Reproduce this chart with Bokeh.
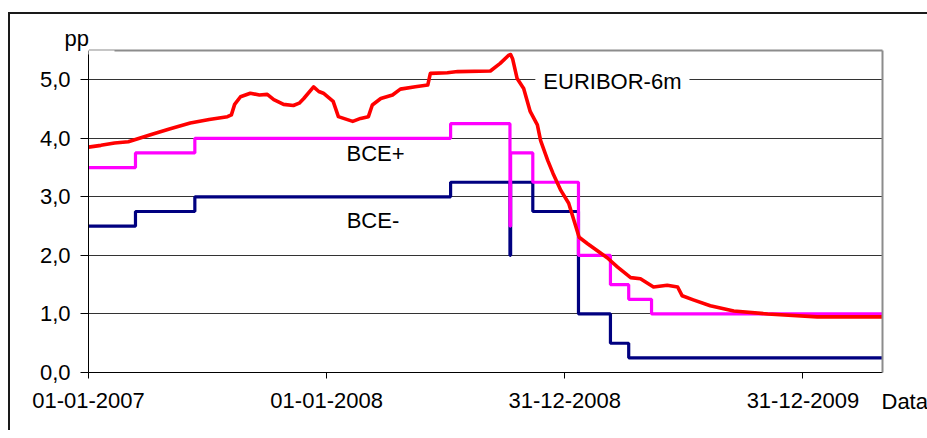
import pandas as pd
from bokeh.plotting import figure
from bokeh.models import (Range1d, FixedTicker, CustomJSTickFormatter, Label,
                          BoxAnnotation, LinearAxis, Title)
from bokeh.embed import file_html
from bokeh.resources import INLINE

try:
    from bokeh.models import GlobalInlineStyleSheet
except Exception:  # pragma: no cover
    GlobalInlineStyleSheet = None

# ---- data -------------------------------------------------------------
bce_dates = ["2007-01-01", "2007-03-14", "2007-06-13", "2008-07-09", "2008-10-08",
             "2008-10-09", "2008-11-12", "2009-01-21", "2009-03-11", "2009-04-08",
             "2009-05-13", "2010-05-02"]
bce_plus = [3.50, 3.75, 4.00, 4.25, 2.50, 3.75, 3.25, 2.00, 1.50, 1.25, 1.00, 1.00]
bce_minus = [2.50, 2.75, 3.00, 3.25, 2.00, 3.25, 2.75, 1.00, 0.50, 0.25, 0.25, 0.25]

eur_dates = ["2007-01-01", "2007-01-20", "2007-02-10", "2007-03-03", "2007-03-20",
             "2007-04-06", "2007-05-05", "2007-06-06", "2007-07-05", "2007-08-02",
             "2007-08-08", "2007-08-13", "2007-08-22", "2007-09-06", "2007-09-20",
             "2007-10-02", "2007-10-12", "2007-10-27", "2007-11-11", "2007-11-20",
             "2007-11-27", "2007-12-12", "2007-12-20", "2007-12-27", "2008-01-11",
             "2008-01-19", "2008-01-27", "2008-02-10", "2008-02-22", "2008-03-05",
             "2008-03-11", "2008-03-24", "2008-04-11", "2008-04-23", "2008-05-16",
             "2008-06-04", "2008-06-08", "2008-07-04", "2008-07-20", "2008-09-08",
             "2008-09-23", "2008-10-06", "2008-10-09", "2008-10-12", "2008-10-19",
             "2008-10-29", "2008-11-08", "2008-11-19", "2008-11-24", "2008-12-05",
             "2008-12-13", "2008-12-25", "2009-01-06", "2009-01-14", "2009-01-22",
             "2009-02-04", "2009-02-19", "2009-03-06", "2009-03-22", "2009-04-11",
             "2009-04-26", "2009-05-16", "2009-06-06", "2009-06-22", "2009-06-29",
             "2009-07-16", "2009-08-11", "2009-09-16", "2009-11-07", "2010-01-22",
             "2010-05-02"]
eur_vals = [3.85, 3.88, 3.92, 3.94, 4.00,
            4.06, 4.16, 4.26, 4.32, 4.37,
            4.40, 4.58, 4.71, 4.77, 4.74,
            4.75, 4.66, 4.58, 4.56, 4.60,
            4.68, 4.88, 4.80, 4.77, 4.63,
            4.37, 4.34, 4.29, 4.34, 4.37,
            4.57, 4.68, 4.74, 4.84, 4.88,
            4.91, 5.11, 5.12, 5.14, 5.15,
            5.28, 5.42, 5.43, 5.36, 5.02,
            4.85, 4.46, 4.23, 3.96, 3.62,
            3.40, 3.11, 2.89, 2.60, 2.31,
            2.20, 2.08, 1.96, 1.80, 1.62,
            1.60, 1.46, 1.49, 1.46, 1.31,
            1.24, 1.14, 1.05, 1.00, 0.95,
            0.95]

x_tick_dates = ["2007-01-01", "2008-01-01", "2008-12-31", "2009-12-31"]
y_ticks = [0, 1, 2, 3, 4, 5]


def ms(s):
    return pd.Timestamp(s).value / 1e6


FONT = "Liberation Sans"
FS = "22px"
FRAME = "#1a1a1a"

p = figure(width=927, height=430, x_axis_type="datetime",
           x_range=Range1d(pd.Timestamp("2007-01-01"), pd.Timestamp("2010-05-02")),
           y_range=Range1d(0, 5.5),
           output_backend="svg", toolbar_location=None,
           min_border_left=88, min_border_right=45, min_border_top=50, min_border_bottom=58)
p.outline_line_color = None
p.background_fill_color = "white"
p.border_fill_alpha = 0
# outer chart frame (left and top edges) drawn as the figure's CSS background
p.styles = {
    "background-color": "white",
    "background-image": f"linear-gradient({FRAME},{FRAME}), linear-gradient({FRAME},{FRAME})",
    "background-repeat": "no-repeat",
    "background-position": "8px 12px, 8px 12px",
    "background-size": "2px 100%, 100% 2px",
}
if GlobalInlineStyleSheet is not None:
    p.stylesheets = [GlobalInlineStyleSheet(css="html, body { overflow: hidden; }")]

# grid
p.xgrid.visible = False
p.yaxis.ticker = FixedTicker(ticks=y_ticks)
p.ygrid.ticker = FixedTicker(ticks=y_ticks)
p.ygrid.grid_line_color = "#333333"
p.ygrid.grid_line_width = 1

# axes
for ax in (p.xaxis[0], p.yaxis[0]):
    ax.axis_line_color = "black"
    ax.axis_line_width = 1
    ax.major_tick_line_color = "black"
    ax.major_tick_in = 0
    ax.minor_tick_line_color = None
    ax.major_label_text_font = FONT
    ax.major_label_text_font_size = FS
    ax.major_label_text_color = "black"

p.yaxis.major_tick_out = 8
p.yaxis.major_label_standoff = 10
p.yaxis.formatter = CustomJSTickFormatter(code="return tick.toFixed(1).replace('.', ',');")

p.xaxis.major_tick_out = 6
p.xaxis.major_label_standoff = 14
p.xaxis.ticker = FixedTicker(ticks=[ms(d) for d in x_tick_dates])
p.xaxis.formatter = CustomJSTickFormatter(code="""
const d = new Date(tick);
const dd = String(d.getUTCDate()).padStart(2, '0');
const mm = String(d.getUTCMonth() + 1).padStart(2, '0');
return dd + '-' + mm + '-' + d.getUTCFullYear();
""")

# gray plot-area border (top and right)
for side in ("above", "right"):
    a = LinearAxis(ticker=FixedTicker(ticks=[]), axis_line_color="#8c8c8c",
                   axis_line_width=2, major_tick_line_color=None, major_tick_out=0,
                   major_tick_in=0, major_label_standoff=0,
                   minor_tick_line_color=None, major_label_text_font_size="0px")
    p.add_layout(a, side)

# axis titles ("pp" above the value axis, "Data" right of the date axis)
p.title.text = "pp"
p.title.align = "left"
p.title.offset = -24
p.title.standoff = 0
p.title.text_font = FONT
p.title.text_font_size = FS
p.title.text_font_style = "normal"
p.title.text_color = "black"
p.title.background_fill_color = "white"

p.add_layout(Title(text="Data", align="left", vertical_align="top", offset=793,
                   standoff=-43, text_font=FONT, text_font_size=FS,
                   text_font_style="normal", text_color="black"), "below")

# series
xb = pd.to_datetime(bce_dates)
xe = pd.to_datetime(eur_dates)
p.step(xb, bce_minus, mode="after", line_color="#000080", line_width=3.2)
p.step(xb, bce_plus, mode="after", line_color="#FF00FF", line_width=3.2)
p.line(xe, eur_vals, line_color="#FF0000", line_width=3.6, line_join="round")

# labels inside the plot area
p.add_layout(Label(x=ms("2009-03-14"), y=4.97, text="EURIBOR-6m", text_align="center",
                   text_baseline="middle", text_font=FONT, text_font_size=FS,
                   text_color="black", background_fill_color="white", padding=8))
p.add_layout(Label(x=ms("2008-03-16"), y=3.74, text="BCE+", text_align="center",
                   text_baseline="middle", text_font=FONT, text_font_size=FS,
                   text_color="black"))
p.add_layout(Label(x=ms("2008-03-12"), y=2.60, text="BCE-", text_align="center",
                   text_baseline="middle", text_font=FONT, text_font_size=FS,
                   text_color="black"))

# white gap in the top border next to "pp"
p.add_layout(BoxAnnotation(left=87, right=114, top=46, bottom=54,
                           left_units="canvas", right_units="canvas",
                           top_units="canvas", bottom_units="canvas",
                           fill_color="white", fill_alpha=1, line_color=None,
                           level="overlay"))

open("out.html", "w").write(file_html(p, INLINE))
